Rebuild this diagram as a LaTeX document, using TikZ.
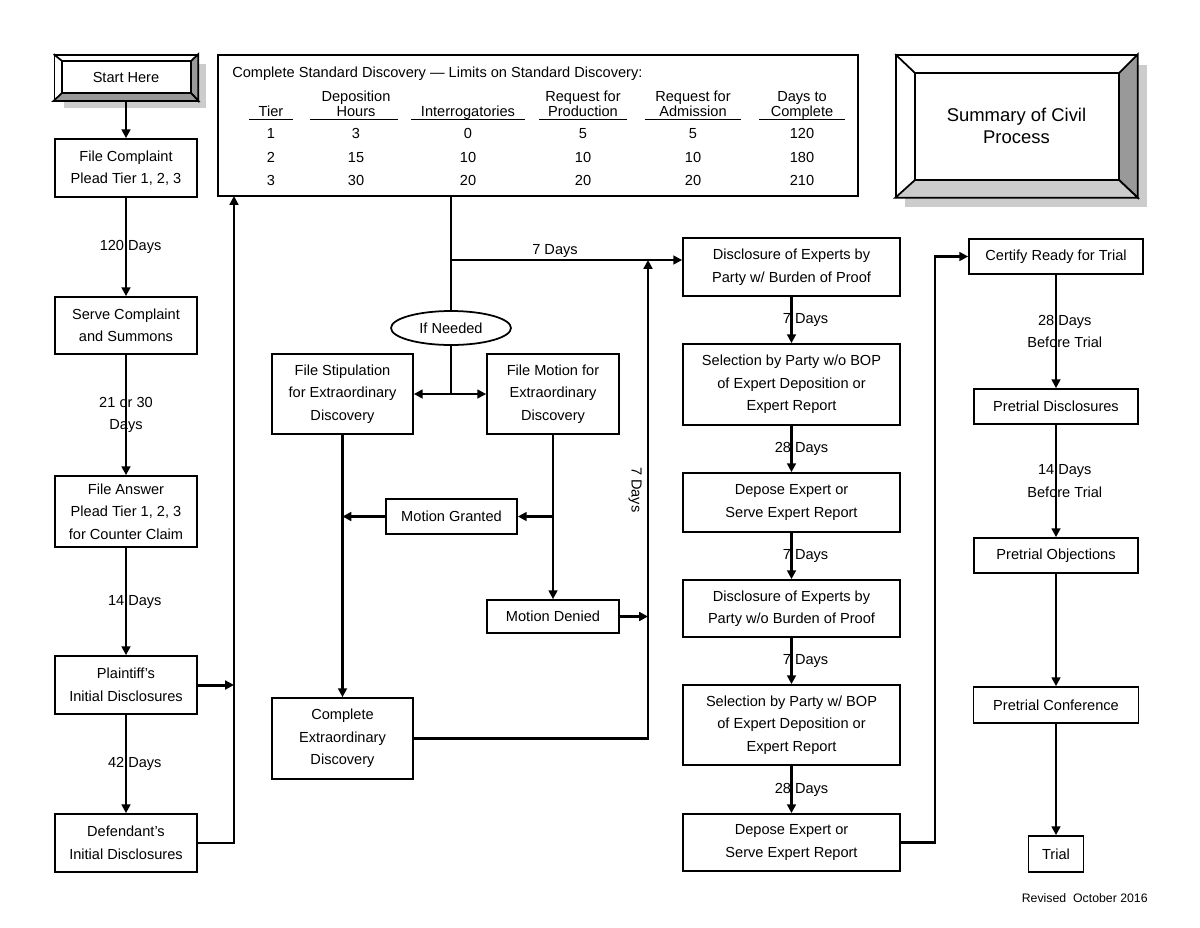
\documentclass[tikz,border=0pt]{standalone}
\usepackage{fontspec}
\setmainfont{Liberation Sans}
\usetikzlibrary{arrows.meta,shapes.geometric}

\tikzset{
  box/.style={draw, line width=1pt, align=center, inner sep=0pt},
  lbl/.style={align=center, inner sep=0pt},
  cell/.style={anchor=base, inner sep=0pt},
  conn/.style={line width=1.2pt, -{Triangle[length=5pt,width=5pt]}},
  heavy/.style={line width=1.7pt},
}

\begin{document}
\begin{tikzpicture}[x=0.02cm, y=-0.02cm, font=\fontsize{8.3}{12.8}\selectfont]
  \useasboundingbox (0,0) rectangle (1200,927);

  % shadows behind the two framed boxes
  \fill[gray!40] (64,64) rectangle (206,108);
  \fill[gray!40] (905,65) rectangle (1147,207);

  % left column
  \draw
    (126,77.5) node[box, fill=white, minimum width=2.86cm, minimum height=0.9cm] (start){Start Here}
    (126,168) node[box, minimum width=2.84cm, minimum height=1.16cm] (filec){File Complaint\\Plead Tier 1, 2, 3}
    (126,325.5) node[box, minimum width=2.84cm, minimum height=1.14cm] (serve){Serve Complaint\\and Summons}
    (126,511.5) node[box, minimum width=2.84cm, minimum height=1.42cm] (answer){File Answer\\Plead Tier 1, 2, 3\\for Counter Claim}
    (126,685) node[box, minimum width=2.84cm, minimum height=1.16cm] (plaintiff){Plaintiff's\\Initial Disclosures}
    (126,843) node[box, minimum width=2.84cm, minimum height=1.16cm] (defendant){Defendant's\\Initial Disclosures};
  \draw[line width=1pt, fill=gray!80] (start.north east) -- (start.south east) -- (191,93) -- (191,61) -- cycle;
  \draw[line width=1pt, fill=gray!80] (start.south west) -- (start.south east) -- (191,93) -- (62,93) -- cycle;
  \draw[line width=1pt] (start.north west) -- (62,61) rectangle (191,93);

  % title box
  \draw
    (1016.5,126) node[box, fill=white, minimum width=4.82cm, minimum height=2.84cm,
      font=\fontsize{10.5}{12.5}\selectfont] (summary){Summary of Civil\\Process};
  \draw[line width=1pt, fill=gray!80] (summary.north east) -- (summary.south east) -- (1119,180) -- (1119,73) -- cycle;
  \draw[line width=1pt, fill=gray!40] (summary.south west) -- (summary.south east) -- (1119,180) -- (915,180) -- cycle;
  \draw[line width=1pt] (summary.north west) -- (915,73) rectangle (1119,180);

  % standard discovery table
  \draw
    (538,125.5) node[box, minimum width=12.8cm, minimum height=2.82cm] (stdtable){}
    (232,77) node[cell, anchor=base west] (stdhead){Complete Standard Discovery --- Limits on Standard Discovery:}
    (356,101) node[cell] (hdep){Deposition}
    (583,101) node[cell] (hprod){Request for}
    (693,101) node[cell] (hadm){Request for}
    (802,101) node[cell] (hdays){Days to}
    (271,116.5) node[cell] (htier){Tier}
    (356,116.5) node[cell] (hhours){Hours}
    (468,116.5) node[cell] (hint){Interrogatories}
    (583,116.5) node[cell] (hprod2){Production}
    (693,116.5) node[cell] (hadm2){Admission}
    (802,116.5) node[cell] (hdays2){Complete};
  \begin{scope}[line width=0.6pt]
    \draw (249,119.5) -- (293,119.5);
    \draw (310,119.5) -- (398,119.5);
    \draw (411,119.5) -- (525,119.5);
    \draw (539,119.5) -- (627,119.5);
    \draw (645,119.5) -- (741,119.5);
    \draw (759,119.5) -- (845,119.5);
  \end{scope}
  \draw
    (271,138) node[cell] (r1t){1}
    (356,138) node[cell] (r1d){3}
    (468,138) node[cell] (r1i){0}
    (583,138) node[cell] (r1p){5}
    (693,138) node[cell] (r1a){5}
    (802,138) node[cell] (r1c){120}
    (271,162) node[cell] (r2t){2}
    (356,162) node[cell] (r2d){15}
    (468,162) node[cell] (r2i){10}
    (583,162) node[cell] (r2p){10}
    (693,162) node[cell] (r2a){10}
    (802,162) node[cell] (r2c){180}
    (271,185) node[cell] (r3t){3}
    (356,185) node[cell] (r3d){30}
    (468,185) node[cell] (r3i){20}
    (583,185) node[cell] (r3p){20}
    (693,185) node[cell] (r3a){20}
    (802,185) node[cell] (r3c){210};

  % extraordinary discovery
  \draw
    (451,328) node[ellipse, draw, line width=1pt, inner sep=0pt, minimum width=2.4cm, minimum height=0.68cm] (ifneed){If Needed}
    (342.5,394) node[box, minimum width=2.82cm, minimum height=1.6cm] (stip){File Stipulation\\for Extraordinary\\Discovery}
    (553,394) node[box, minimum width=2.64cm, minimum height=1.6cm] (motion){File Motion for\\Extraordinary\\Discovery}
    (451.5,516.5) node[box, minimum width=2.62cm, minimum height=0.7cm] (granted){Motion Granted}
    (553,616.5) node[box, minimum width=2.64cm, minimum height=0.66cm] (denied){Motion Denied}
    (342.5,738.5) node[box, minimum width=2.82cm, minimum height=1.62cm] (complete){Complete\\Extraordinary\\Discovery};

  % experts
  \draw
    (791.5,267) node[box, minimum width=4.34cm, minimum height=1.16cm] (disc1){Disclosure of Experts by\\Party w/ Burden of Proof}
    (791.5,384.5) node[box, minimum width=4.34cm, minimum height=1.62cm] (sel1){Selection by Party w/o BOP\\of Expert Deposition or\\Expert Report}
    (791.5,502.5) node[box, minimum width=4.34cm, minimum height=1.18cm] (dep1){Depose Expert or\\Serve Expert Report}
    (791.5,608.5) node[box, minimum width=4.34cm, minimum height=1.14cm] (disc2){Disclosure of Experts by\\Party w/o Burden of Proof}
    (791.5,725) node[box, minimum width=4.34cm, minimum height=1.6cm] (sel2){Selection by Party w/ BOP\\of Expert Deposition or\\Expert Report}
    (791.5,842.5) node[box, minimum width=4.34cm, minimum height=1.14cm] (dep2){Depose Expert or\\Serve Expert Report};

  % trial
  \draw
    (1056,256.5) node[box, minimum width=3.48cm, minimum height=0.7cm] (certify){Certify Ready for Trial}
    (1056,406.5) node[box, minimum width=3.28cm, minimum height=0.7cm] (pdisc){Pretrial Disclosures}
    (1056,555.5) node[box, minimum width=3.28cm, minimum height=0.7cm] (pobj){Pretrial Objections}
    (1056,705) node[box, minimum width=3.3cm, minimum height=0.72cm] (pconf){Pretrial Conference}
    (1056,854) node[box, minimum width=1.1cm, minimum height=0.72cm] (trial){Trial}
    (1148,898) node[anchor=east, inner sep=0pt, font=\fontsize{7}{8}\selectfont] (revised){Revised\ \ October 2016};

  \coordinate (cL) at (234,196);
  \coordinate (j7) at (451,260);
  \coordinate (c7) at (648,260);
  \coordinate (cR) at (935,260);

  \begin{scope}[conn, heavy]
    \draw (start) to (filec);
    \draw (filec) to node[lbl, xshift=2.6pt] {120 Days} (serve);
    \draw (serve) to node[lbl] {21 or 30\\Days} (answer);
    \draw (answer) to node[lbl, xshift=5pt] {14 Days} (plaintiff);
    \draw (plaintiff) to node[lbl, xshift=5pt] {42 Days} (defendant);
    \draw (disc1) to node[lbl, xshift=8pt] {7 Days} (sel1);
    \draw (sel1) to node[lbl, xshift=5.7pt] {28 Days} (dep1);
    \draw (dep1) to node[lbl, xshift=8pt] {7 Days} (disc2);
    \draw (disc2) to node[lbl, xshift=8pt] {7 Days} (sel2);
    \draw (sel2) to node[lbl, xshift=5.7pt] {28 Days} (dep2);
    \draw (plaintiff) -- (plaintiff -| cL);
  \end{scope}

  \begin{scope}[conn]
    \draw (defendant) -| (cL);
    \draw[-] (ifneed.north |- stdtable.south) -- (ifneed.north);
    \draw[-] (ifneed.south) -- (ifneed.south |- stip.east);
    \draw[{Triangle[length=5pt,width=5pt]}-{Triangle[length=5pt,width=5pt]}] (stip) -- (motion);
    \draw (j7) -- node[lbl, above=1pt, pos=0.45] {7 Days} (j7 -| disc1.west);
    \draw (stip) -- (complete);
    \draw (granted) -- (granted -| stip.south);
    \draw (granted -| motion.south) -- (granted);
    \draw (motion) -- (denied);
    \draw (denied) -- (denied -| c7);
    \draw (complete) -| node[lbl, pos=0.76, rotate=-90, below=3pt] {7 Days} (c7);
    \draw (dep2) -- (dep2 -| cR) |- (certify);
    \draw (certify) to node[lbl, xshift=5pt] {28 Days\\Before Trial} (pdisc);
    \draw (pdisc) to node[lbl, xshift=5pt] {14 Days\\Before Trial} (pobj);
    \draw (pobj) -- (pconf);
    \draw (pconf) -- (trial);
  \end{scope}
\end{tikzpicture}
\end{document}
